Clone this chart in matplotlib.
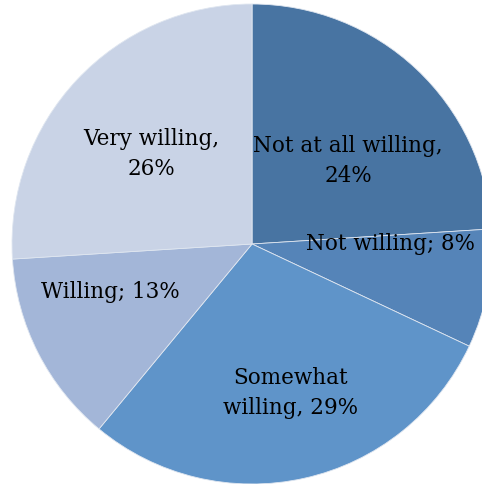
import matplotlib.pyplot as plt

# willingness shares, clockwise from 12 o'clock
labels = ['Not at all willing,\n24%', 'Not willing; 8%', 'Somewhat\nwilling, 29%',
          'Willing; 13%', 'Very willing,\n26%']
values = [24, 8, 29, 13, 26]
colors = ['#4874a2', '#5584b8', '#5f94c9', '#a3b6d8', '#c9d3e6']
label_pos = [(0.40, 0.345), (0.575, 0.0), (0.16, -0.62), (-0.59, -0.2), (-0.42, 0.375)]

fig = plt.figure(figsize=(4.82, 4.84), dpi=100)
ax = fig.add_axes([0, 0, 1, 1])
ax.pie(values, colors=colors, startangle=90, counterclock=False, radius=1,
       wedgeprops=dict(edgecolor='#dfe6f0', linewidth=0.6))
for txt, (x, y) in zip(labels, label_pos):
    ax.text(x, y, txt, ha='center', va='center', fontsize=15.5,
            family='DejaVu Serif', linespacing=1.45)
ax.set_xlim(-1.05, 0.958)
ax.set_ylim(-1.0, 1.0167)
ax.set_aspect('auto')
ax.axis('off')
fig.savefig('out.png', dpi=100)
